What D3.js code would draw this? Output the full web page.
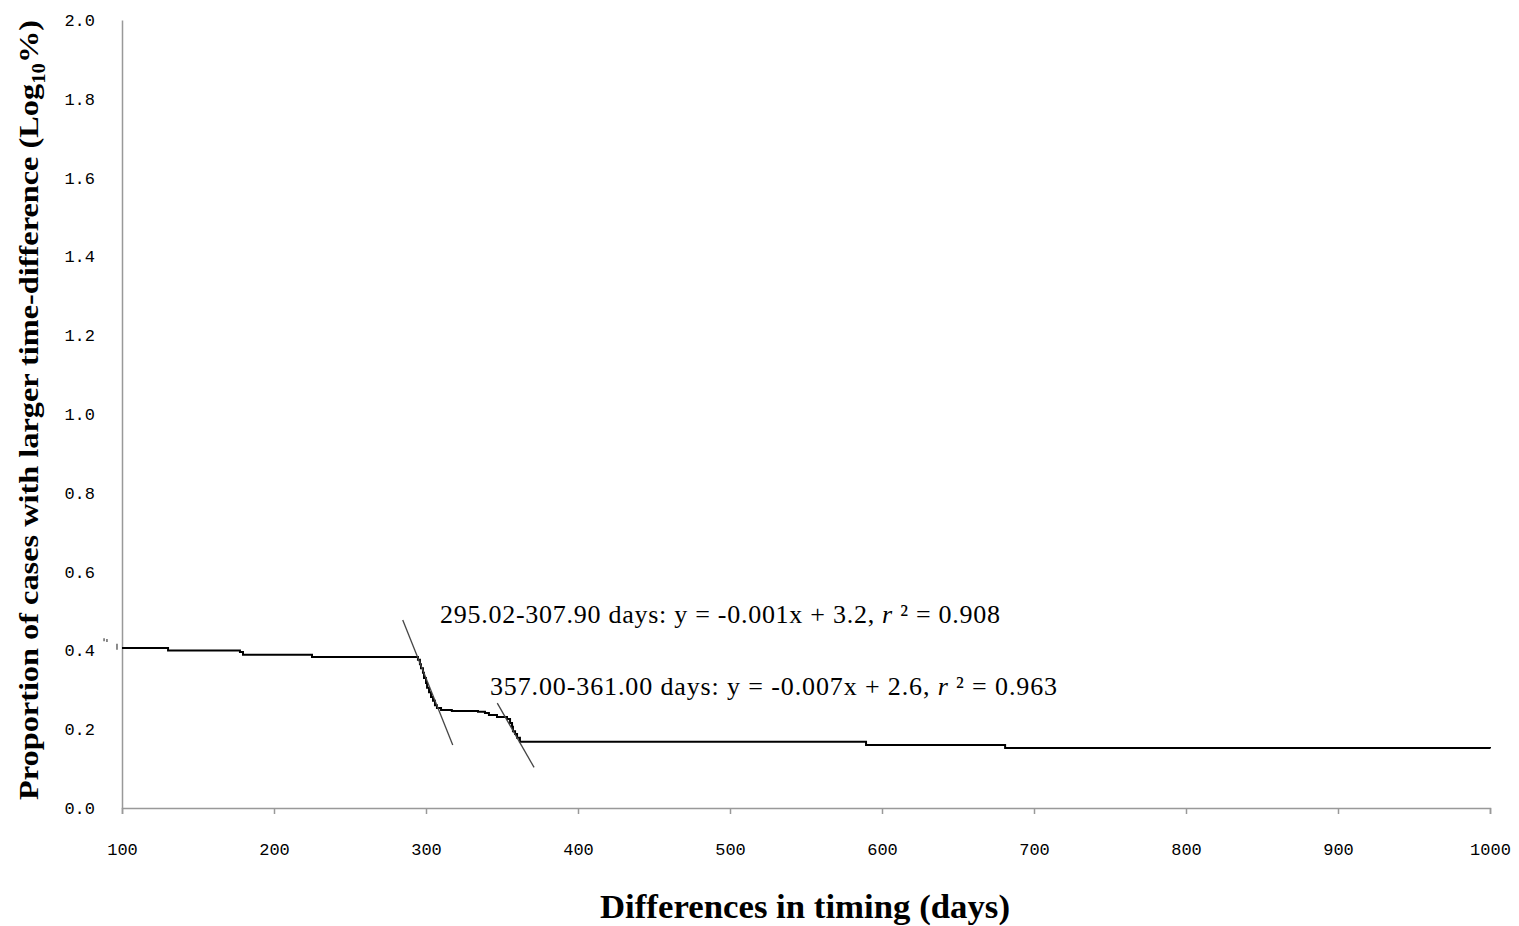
<!DOCTYPE html>
<html>
<head>
<meta charset="utf-8">
<script src="https://cdn.jsdelivr.net/npm/d3@7"></script>
<style>
  body { margin: 0; background: #fff; }
  .tick text { font-family: "Liberation Mono", monospace; font-size: 17px; fill: #000; }
</style>
</head>
<body>
<div id="central-container"></div>
<script>
// chart size
var width = 1519
var height = 926

// x ticks (days) and y ticks (log10 %)
var xTicks = [100, 200, 300, 400, 500, 600, 700, 800, 900, 1000]
var yTicks = [0.0, 0.2, 0.4, 0.6, 0.8, 1.0, 1.2, 1.4, 1.6, 1.8, 2.0]

// step curve
var days = [100, 130.3, 177.6, 179.6, 225, 294.7, 296, 296.7, 298, 298.7, 300, 300.7, 302, 303.3, 304.6, 305.9, 307.2, 309.9, 317, 334.2, 338.8, 341.4, 346.7, 353.3, 355.3, 356.6, 357.2, 358.6, 359.9, 361.8, 589.5, 681, 1000]
var logPct = [0.406, 0.400, 0.396, 0.389, 0.383, 0.376, 0.365, 0.355, 0.343, 0.330, 0.317, 0.305, 0.294, 0.282, 0.272, 0.261, 0.254, 0.249, 0.246, 0.244, 0.241, 0.236, 0.231, 0.226, 0.216, 0.206, 0.195, 0.188, 0.178, 0.168, 0.160, 0.152, 0.151]

// stray points left of the axis
var strayDays = [88.2, 90.1, 96.7]
var strayPct = [0.426, 0.424, 0.412]

// regression lines
var fit1Days = [284.7, 317.6]
var fit1Pct = [0.477, 0.160]
var fit2Days = [346.9, 371.1]
var fit2Pct = [0.266, 0.103]

var margin = {left: 122, right: 29, top: 20, bottom: 118}

window.onload = function () {
  var svg = d3.select("#central-container")
    .append("svg")
      .attr("width", width)
      .attr("height", height)

  var x = d3.scaleLinear().domain([100, 1000]).range([margin.left, width - margin.right])
  var y = d3.scaleLinear().domain([0, 2]).range([height - margin.bottom, margin.top])

  // x axis
  var xAxis = svg.append("g")
    .attr("transform", "translate(0," + y(0) + ")")
    .call(d3.axisBottom(x).tickValues(xTicks).tickSize(6).tickPadding(29).tickFormat(d3.format("d")))
  xAxis.select(".domain").attr("stroke", "#999").attr("stroke-width", 1.5)
  xAxis.selectAll(".tick line").attr("stroke", "#999").attr("stroke-width", 1.5)

  // y axis
  var yAxis = svg.append("g")
    .attr("transform", "translate(" + x(100) + ",0)")
    .call(d3.axisLeft(y).tickValues(yTicks).tickSize(0).tickPadding(27).tickFormat(d3.format(".1f")))
  yAxis.select(".domain").attr("stroke", "#999").attr("stroke-width", 1.5)

  // step curve
  var pts = days.map(function(d, i){ return [d, logPct[i]] })
  svg.append("path")
    .datum(pts)
    .attr("fill", "none")
    .attr("stroke", "#000")
    .attr("stroke-width", 2)
    .attr("d", d3.line().curve(d3.curveStepAfter)
      .x(function(d){ return x(d[0]) })
      .y(function(d){ return y(d[1]) }))

  // stray marks
  svg.append("g").selectAll("line")
    .data(strayDays)
    .enter().append("line")
      .attr("x1", function(d){ return x(d) })
      .attr("x2", function(d){ return x(d) })
      .attr("y1", function(d, i){ return y(strayPct[i]) - 2 })
      .attr("y2", function(d, i){ return y(strayPct[i]) + (i == 2 ? 4 : 1) })
      .attr("stroke", "#666")
      .attr("stroke-width", 1.5)

  // fitted lines
  var fits = [[fit1Days, fit1Pct], [fit2Days, fit2Pct]]
  svg.append("g").selectAll("line")
    .data(fits)
    .enter().append("line")
      .attr("x1", function(d){ return x(d[0][0]) })
      .attr("y1", function(d){ return y(d[1][0]) })
      .attr("x2", function(d){ return x(d[0][1]) })
      .attr("y2", function(d){ return y(d[1][1]) })
      .attr("stroke", "#444")
      .attr("stroke-width", 1.3)

  // annotations
  var notes = [
    {x: 440, y: 623, len: 560, a: "295.02-307.90 days: y = -0.001x + 3.2, ", b: " ² = 0.908"},
    {x: 490, y: 695, len: 567, a: "357.00-361.00 days:  y = -0.007x + 2.6, ", b: " ² = 0.963"}
  ]
  notes.forEach(function(n){
    var t = svg.append("text")
      .attr("x", n.x).attr("y", n.y)
      .attr("textLength", n.len)
      .attr("lengthAdjust", "spacing")
      .style("font-family", "'Liberation Serif', serif")
      .style("font-size", "26px")
    t.append("tspan").text(n.a)
    t.append("tspan").style("font-style", "italic").text("r")
    t.append("tspan").text(n.b)
  })

  // axis titles
  svg.append("text")
    .attr("x", 805).attr("y", 918)
    .attr("text-anchor", "middle")
    .attr("textLength", 410)
    .attr("lengthAdjust", "spacingAndGlyphs")
    .style("font-family", "'Liberation Serif', serif")
    .style("font-weight", "bold")
    .style("font-size", "33px")
    .text("Differences in timing (days)")

  var yt = svg.append("text")
    .attr("transform", "translate(38,410) rotate(-90)")
    .attr("text-anchor", "middle")
    .attr("textLength", 780)
    .attr("lengthAdjust", "spacingAndGlyphs")
    .style("font-family", "'Liberation Serif', serif")
    .style("font-weight", "bold")
    .style("font-size", "28px")
  yt.append("tspan").text("Proportion of cases with larger time-difference  (Log")
  yt.append("tspan").attr("dy", 7).style("font-size", "18px").text("10")
  yt.append("tspan").attr("dy", -7).text("%)")
}
</script>
</body>
</html>
